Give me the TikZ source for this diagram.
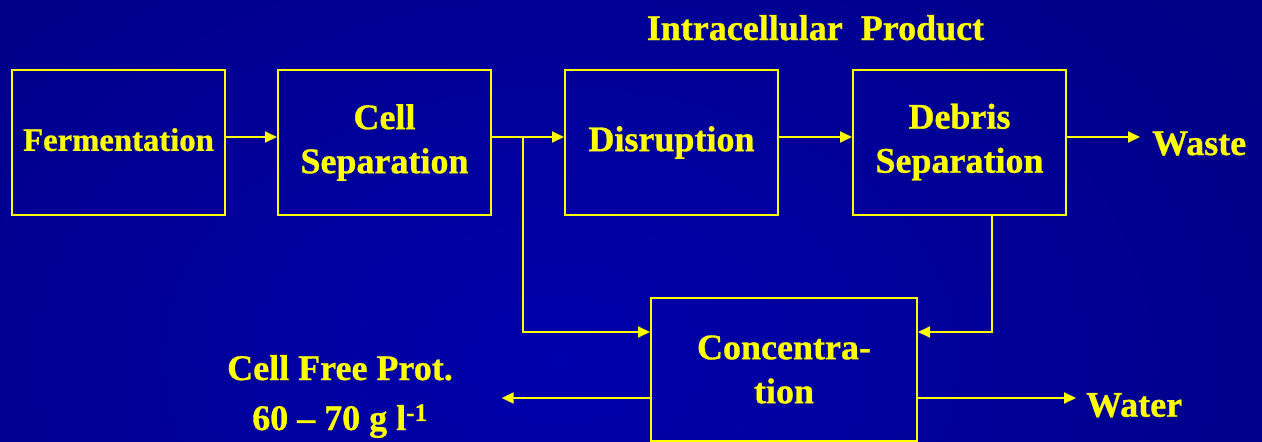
\documentclass[tikz,border=0pt]{standalone}
\usepackage{fontspec}
\setmainfont{Liberation Serif}[BoldFeatures={FakeBold=0.8}]
\usetikzlibrary{arrows.meta,calc}
\definecolor{flowyellow}{RGB}{255,255,0}
\definecolor{bginner}{RGB}{0,0,172}
\definecolor{bgouter}{RGB}{0,0,84}
\pgfdeclareradialshading{bgglow}{\pgfpoint{0bp}{0bp}}{color(0bp)=(bginner); color(50bp)=(bgouter)}
\tikzset{
  stagebox/.style={draw=flowyellow, line width=2pt, minimum width=213pt, minimum height=145pt,
    inner sep=0pt, align=center, text=flowyellow, font=\fontsize{36}{44}\selectfont\bfseries},
  tag/.style={text=flowyellow, inner sep=0pt, font=\fontsize{36}{44}\selectfont\bfseries},
  flow/.style={draw=flowyellow, line width=2pt, -{Triangle[length=12pt,width=11pt]}}
}
\begin{document}
\begin{tikzpicture}[x=1pt,y=-1pt]
\useasboundingbox (0,0) rectangle (1262,442);
\clip (0,0) rectangle (1262,442);
% background glow
\fill[bgouter] (0,0) rectangle (1262,442);
\shade[shading=bgglow] (-390,-290) rectangle (1510,1010);

% process stages
\node[stagebox, font=\fontsize{32.7}{40}\selectfont\bfseries, text depth=6pt] (ferm) at (118.5,142.5) {Fermentation};
\node[stagebox] (cellsep) at (384.5,142.5) {Cell\\Separation};
\node[stagebox] (disr) at (671.5,142.5) {Disruption};
\node[stagebox] (debris) at (959.5,142) {Debris\\Separation};
\node[stagebox, minimum width=266pt, minimum height=143pt] (conc) at (784,369.5) {Concentra-\\tion};

% labels
\node[tag, anchor=base] (title) at (815.5,40) {Intracellular~~Product};
\node[tag, anchor=base west] (waste) at (1152,155) {Waste};
\node[tag, anchor=base west] (water) at (1086,416.7) {Water};
\node[tag, anchor=base, align=center, font=\fontsize{36}{50}\selectfont\bfseries] (cellfree) at (340,430)
  {Cell Free Prot.\\60 – 70 g l\textsuperscript{-1}};

% connector rows
\coordinate (rowA) at (0,137);
\coordinate (rowB) at (0,332);
\coordinate (rowC) at (0,398);
\coordinate (split) at (522.7,137);
\coordinate (cfp) at (501.7,398);

% connectors
\draw[flow] (ferm.east |- rowA) -- (cellsep.west |- rowA);
\draw[flow] (cellsep.east |- rowA) -- (disr.west |- rowA);
\draw[flow] (disr.east |- rowA) -- (debris.west |- rowA);
\draw[flow, shorten >=12pt] (debris.east |- rowA) -- (waste.west |- rowA);
\draw[flow] (split) |- (conc.west |- rowB);
\draw[flow] ($(debris.south)+(32.5,0)$) |- (conc.east |- rowB);
\draw[flow, shorten >=10pt] (conc.east |- rowC) -- (water.west |- rowC);
\draw[flow] (conc.west |- rowC) -- (cfp);
\end{tikzpicture}
\end{document}
